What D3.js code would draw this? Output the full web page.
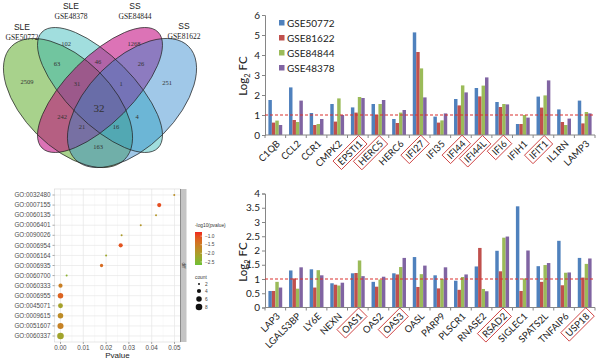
<!DOCTYPE html>
<html>
<head>
<meta charset="utf-8">
<script src="https://cdn.jsdelivr.net/npm/d3@7"></script>
<style>
  body { margin: 0; background: #fff; }
  svg { display: block; }
</style>
</head>
<body>
<svg width="600" height="359"></svg>
<script>
// ---- data ----
var seriesNames = ["GSE50772", "GSE81622", "GSE84844", "GSE48378"];
var seriesColors = ["#4f81bd", "#c0504d", "#9bbb59", "#8064a2"];

var topGenes = ["C1QB","CCL2","CCR1","CMPK2","EPSTI1","HERC5","HERC6","IFI27","IFI35","IFI44","IFI44L","IFI6","IFIH1","IFIT1","IL1RN","LAMP3"];
var topGSE50772 = [1.75,2.38,1.10,1.55,1.38,1.55,0.80,5.13,0.92,1.80,2.35,1.65,0.55,1.92,1.28,1.72];
var topGSE81622 = [0.62,0.75,0.50,0.67,1.12,1.00,0.60,4.15,0.62,1.48,1.93,1.40,0.55,1.37,0.65,0.58];
var topGSE84844 = [0.72,0.65,0.55,1.83,1.90,1.55,1.12,3.33,0.73,2.48,2.47,1.55,1.00,1.98,0.50,1.15];
var topGSE48378 = [0.50,1.72,0.80,1.00,1.85,1.75,1.25,1.88,1.08,2.13,2.88,1.53,0.87,2.73,0.82,1.08];
var topBoxed = ["EPSTI1","HERC5","IFI27","IFI44","IFI44L","IFI6","IFIT1"];
var topTicks = [0,1,2,3,4,5,6];

var botGenes = ["LAP3","LGALS3BP","LY6E","NEXN","OAS1","OAS2","OAS3","OASL","PARP9","PLSCR1","RNASE2","RSAD2","SIGLEC1","SPATS2L","TNFAIP6","USP18"];
var botGSE50772 = [0.58,1.30,1.34,0.85,1.20,0.90,1.20,1.77,1.13,0.94,1.44,1.99,3.55,1.45,2.34,1.74];
var botGSE81622 = [0.58,1.02,0.70,0.80,1.21,0.73,1.16,0.72,0.67,0.62,2.09,1.27,0.58,0.90,0.78,1.05];
var botGSE84844 = [0.90,0.66,1.31,0.77,1.65,0.98,1.42,1.17,1.00,1.07,0.65,2.45,1.02,1.49,1.22,1.53];
var botGSE48378 = [0.70,1.41,1.13,0.87,1.10,1.08,1.74,1.47,1.41,1.16,0.57,2.49,2.00,1.56,1.23,1.72];
var botBoxed = ["OAS1","OAS3","RSAD2","USP18"];
var botTicks = [0,0.5,1,1.5,2,2.5,3,3.5,4];

var goTerms = ["GO:0032480","GO:0007155","GO:0060135","GO:0006401","GO:0090026","GO:0006954","GO:0006164","GO:0006935","GO:0060700","GO:0060333","GO:0006955","GO:0045071","GO:0009615","GO:0051607","GO:0060337"];
var goPvalue = [0.0499,0.0433,0.0419,0.0352,0.0268,0.0264,0.0200,0.0180,0.0027,0.0000,0.0000,0.0000,0.0000,0.0000,0.0000];
var goCount  = [2,4,2,2,2,4,2,3,2,4,6,5,6,7,8];
var goLogP   = [-1.8,-1.0,-1.9,-1.9,-2.0,-1.05,-2.2,-1.3,-2.4,-1.55,-1.2,-2.1,-1.75,-1.6,-2.15];
var pTicks = [0,0.01,0.02,0.03,0.04,0.05];
var colorTicks = [-1.0,-1.5,-2.0,-2.5];
var countTicks = [2,4,6,8];

var vennDisease = ["SLE","SLE","SS","SS"];
var vennSets = ["GSE50772","GSE48378","GSE84844","GSE81622"];
var vennCounts = [2509,102,1268,251,63,46,26,31,1,32,242,4,21,16,163];

// ---- layout ----
var svg = d3.select("svg");
var sans = "Lato, 'Open Sans', sans-serif";
var arial = "'Liberation Sans', Arial, sans-serif";

function barChart(genes, cols, boxed, ticks, yMax, yTop, yBase, labelY, withLegend) {
  var x0 = d3.scaleBand().domain(genes).range([265, 595]).paddingInner(0.33).paddingOuter(0.165);
  var x1 = d3.scaleBand().domain(seriesNames).range([0, x0.bandwidth()]);
  var y = d3.scaleLinear().domain([0, yMax]).range([yBase, yTop]);
  var step = x0.step();
  var g = svg.append("g");

  genes.forEach(function(gene, i) {
    seriesNames.forEach(function(s, j) {
      g.append("rect")
        .attr("x", x0(gene) + x1(s))
        .attr("y", y(cols[j][i]))
        .attr("width", x1.bandwidth())
        .attr("height", yBase - y(cols[j][i]))
        .attr("fill", seriesColors[j]);
    });
  });

  // axes
  var yAxis = d3.axisLeft(y).tickValues(ticks).tickSize(3).tickFormat(function(d) { return d; });
  var ya = g.append("g").attr("transform", "translate(265,0)").call(yAxis);
  ya.select(".domain").attr("stroke", "#868686");
  ya.selectAll(".tick line").attr("stroke", "#868686");
  ya.selectAll(".tick text").attr("font-family", sans).attr("font-size", 10).attr("fill", "#222").attr("x", -5);

  g.append("line").attr("x1", 265).attr("x2", 595).attr("y1", yBase).attr("y2", yBase).attr("stroke", "#868686");
  d3.range(genes.length + 1).forEach(function(i) {
    var xx = 265 + i * step;
    g.append("line").attr("x1", xx).attr("x2", xx).attr("y1", yBase).attr("y2", yBase + 3).attr("stroke", "#868686");
  });

  // threshold
  g.append("line").attr("x1", 265).attr("x2", 595).attr("y1", y(1)).attr("y2", y(1))
    .attr("stroke", "#d9312e").attr("stroke-width", 1.1).attr("stroke-dasharray", "3,2");

  // x labels
  genes.forEach(function(gene) {
    var cx = x0(gene) + x0.bandwidth() / 2;
    var lg = g.append("g").attr("transform", "translate(" + (cx + 3) + "," + (yBase + 7) + ") rotate(-45)");
    var t = lg.append("text").attr("text-anchor", "end").attr("dy", "0.35em")
      .attr("font-family", sans).attr("font-size", 9.5).attr("fill", "#222").text(gene);
    if (boxed.indexOf(gene) >= 0) {
      var bb = t.node().getBBox();
      lg.append("rect").attr("x", bb.x - 3).attr("y", bb.y - 0.5).attr("width", bb.width + 6).attr("height", bb.height + 1)
        .attr("fill", "none").attr("stroke", "#cc3b3b").attr("stroke-width", 0.9);
    }
  });

  // y title
  var yt = g.append("text").attr("transform", "translate(247," + labelY + ") rotate(-90)")
    .attr("text-anchor", "middle").attr("font-family", sans).attr("font-size", 11.5).attr("fill", "#222");
  yt.append("tspan").text("Log");
  yt.append("tspan").attr("font-size", 7.5).attr("dy", 3).text("2");
  yt.append("tspan").attr("dy", -3).text(" FC");

  if (withLegend) {
    seriesNames.forEach(function(s, j) {
      var ly = 23 + j * 15;
      g.append("rect").attr("x", 279).attr("y", ly - 3).attr("width", 5.5).attr("height", 5.5).attr("fill", seriesColors[j]);
      g.append("text").attr("x", 287).attr("y", ly).attr("dy", "0.35em")
        .attr("font-family", sans).attr("font-size", 10).attr("fill", "#222").text(s);
    });
  }
}

barChart(topGenes, [topGSE50772, topGSE81622, topGSE84844, topGSE48378], topBoxed, topTicks, 6, 15, 135, 76, true);
barChart(botGenes, [botGSE50772, botGSE81622, botGSE84844, botGSE48378], botBoxed, botTicks, 4, 193.5, 307.5, 262, false);

// ---- venn ----
var venn = svg.append("g");
var ellipses = [
  {cx: 68, cy: 103, rx: 80, ry: 44, rot: 45, fill: "#3e9b00", op: 0.45},
  {cx: 100, cy: 90, rx: 82, ry: 33, rot: 45, fill: "#2fb5b5", op: 0.45},
  {cx: 100, cy: 90, rx: 82, ry: 33, rot: -45, fill: "#c0007a", op: 0.55},
  {cx: 132, cy: 103, rx: 80, ry: 44, rot: -45, fill: "#2c85cc", op: 0.45}
];
ellipses.forEach(function(e) {
  venn.append("ellipse").attr("transform", "translate(" + e.cx + "," + e.cy + ") rotate(" + e.rot + ")")
    .attr("rx", e.rx).attr("ry", e.ry).attr("fill", e.fill).attr("fill-opacity", e.op);
});
ellipses.forEach(function(e) {
  venn.append("ellipse").attr("transform", "translate(" + e.cx + "," + e.cy + ") rotate(" + e.rot + ")")
    .attr("rx", e.rx).attr("ry", e.ry).attr("fill", "none").attr("stroke", "#222").attr("stroke-width", 0.7);
});
var vennLabelPos = [[22, 30], [71, 9], [135, 9], [184, 29]];
vennSets.forEach(function(s, i) {
  venn.append("text").attr("x", vennLabelPos[i][0]).attr("y", vennLabelPos[i][1]).attr("text-anchor", "middle")
    .attr("font-family", arial).attr("font-size", 8.5).attr("fill", "#222").text(vennDisease[i]);
  venn.append("text").attr("x", vennLabelPos[i][0]).attr("y", vennLabelPos[i][1] + 10).attr("text-anchor", "middle")
    .attr("font-family", "'Liberation Serif', serif").attr("font-size", 7.5).attr("fill", "#222").text(s);
});
var vennCountPos = [[27,82],[66,44],[134,44],[167,83],[57,64],[98,62],[141,64],[77,84],[121,84],[99,108],[62,117],[137,117],[82,127],[116,127],[98,147]];
vennCounts.forEach(function(c, i) {
  venn.append("text").attr("x", vennCountPos[i][0]).attr("y", vennCountPos[i][1]).attr("dy", "0.35em").attr("text-anchor", "middle")
    .attr("font-family", "'Liberation Serif', serif").attr("font-size", c === 32 ? 11 : 6.5).attr("fill", "#333").text(c);
});

// ---- GO bubble plot ----
var bub = svg.append("g");
var panel = {x0: 54.5, x1: 180.5, y0: 189, y1: 342};
var px = d3.scaleLinear().domain([0, 0.05]).range([60.5, 174.5]);
var py = d3.scalePoint().domain(goTerms).range([195, 336]);
var rScale = d3.scaleRadial().domain([2, 8]).range([1, 3.3]);
var cScale = d3.scaleLinear().domain([-2.68, -0.76]).range(["#6cc035", "#f0281f"]).interpolate(d3.interpolateLab);

bub.append("rect").attr("x", panel.x0).attr("y", panel.y0).attr("width", panel.x1 - panel.x0).attr("height", panel.y1 - panel.y0)
  .attr("fill", "#fff");
d3.range(0.005, 0.05, 0.01).forEach(function(v) {
  bub.append("line").attr("x1", px(v)).attr("x2", px(v)).attr("y1", panel.y0).attr("y2", panel.y1).attr("stroke", "#f3f3f3").attr("stroke-width", 0.5);
});
pTicks.forEach(function(v) {
  bub.append("line").attr("x1", px(v)).attr("x2", px(v)).attr("y1", panel.y0).attr("y2", panel.y1).attr("stroke", "#e6e6e6").attr("stroke-width", 0.7);
});
goTerms.forEach(function(t) {
  bub.append("line").attr("x1", panel.x0).attr("x2", panel.x1).attr("y1", py(t)).attr("y2", py(t)).attr("stroke", "#e6e6e6").attr("stroke-width", 0.7);
});
bub.append("rect").attr("x", panel.x0).attr("y", panel.y0).attr("width", panel.x1 - panel.x0).attr("height", panel.y1 - panel.y0)
  .attr("fill", "none").attr("stroke", "#d5d5d5").attr("stroke-width", 0.6);

goTerms.forEach(function(t, i) {
  bub.append("circle").attr("cx", px(goPvalue[i])).attr("cy", py(t)).attr("r", rScale(goCount[i])).attr("fill", cScale(goLogP[i]));
  bub.append("line").attr("x1", panel.x0 - 2).attr("x2", panel.x0).attr("y1", py(t)).attr("y2", py(t)).attr("stroke", "#555").attr("stroke-width", 0.5);
  bub.append("text").attr("x", panel.x0 - 4).attr("y", py(t)).attr("dy", "0.35em").attr("text-anchor", "end")
    .attr("font-family", arial).attr("font-size", 6.3).attr("fill", "#4d4d4d").text(t);
});
pTicks.forEach(function(v) {
  bub.append("line").attr("x1", px(v)).attr("x2", px(v)).attr("y1", panel.y1).attr("y2", panel.y1 + 2).attr("stroke", "#555").attr("stroke-width", 0.5);
  bub.append("text").attr("x", px(v)).attr("y", panel.y1 + 7.5).attr("text-anchor", "middle")
    .attr("font-family", arial).attr("font-size", 6.3).attr("fill", "#4d4d4d").text(d3.format(".2f")(v));
});
bub.append("text").attr("x", (panel.x0 + panel.x1) / 2).attr("y", 358).attr("text-anchor", "middle")
  .attr("font-family", arial).attr("font-size", 8).attr("fill", "#222").text("Pvalue");

// facet strip
bub.append("rect").attr("x", panel.x1).attr("y", panel.y0).attr("width", 6).attr("height", panel.y1 - panel.y0).attr("fill", "#c4c4c4");
bub.append("line").attr("x1", panel.x1).attr("x2", panel.x1).attr("y1", panel.y0).attr("y2", panel.y1).attr("stroke", "#777").attr("stroke-width", 0.8);
bub.append("text").attr("transform", "translate(183.5," + ((panel.y0 + panel.y1) / 2) + ") rotate(90)").attr("text-anchor", "middle").attr("dy", "0.35em")
  .attr("font-family", arial).attr("font-size", 4.5).attr("fill", "#333").text("diff");

// colour legend
var lg = svg.append("g");
var ly = d3.scaleLinear().domain([-0.76, -2.68]).range([232, 265]);
var grad = svg.append("defs").append("linearGradient").attr("id", "cbar").attr("x1", 0).attr("x2", 0).attr("y1", 0).attr("y2", 1);
d3.range(0, 1.01, 0.1).forEach(function(f) {
  grad.append("stop").attr("offset", f).attr("stop-color", cScale(-0.76 - f * 1.92));
});
lg.append("text").attr("x", 195).attr("y", 227).attr("font-family", arial).attr("font-size", 4.8).attr("fill", "#333").text("-log10(pvalue)");
lg.append("rect").attr("x", 195).attr("y", 232).attr("width", 7).attr("height", 33).attr("fill", "url(#cbar)");
colorTicks.forEach(function(v) {
  lg.append("line").attr("x1", 200.5).attr("x2", 202).attr("y1", ly(v)).attr("y2", ly(v)).attr("stroke", "#fff").attr("stroke-width", 0.5);
  lg.append("text").attr("x", 205).attr("y", ly(v)).attr("dy", "0.35em").attr("font-family", arial)
    .attr("font-size", 4.8).attr("fill", "#444").text(d3.format(".1f")(v));
});
lg.append("text").attr("x", 195).attr("y", 279).attr("font-family", arial).attr("font-size", 4.8).attr("fill", "#333").text("count");
countTicks.forEach(function(c, i) {
  var cy = [284, 291, 299, 307][i];
  lg.append("circle").attr("cx", 199).attr("cy", cy).attr("r", rScale(c)).attr("fill", "#111");
  lg.append("text").attr("x", 205).attr("y", cy).attr("dy", "0.35em").attr("font-family", arial)
    .attr("font-size", 4.8).attr("fill", "#444").text(c);
});
</script>
</body>
</html>
